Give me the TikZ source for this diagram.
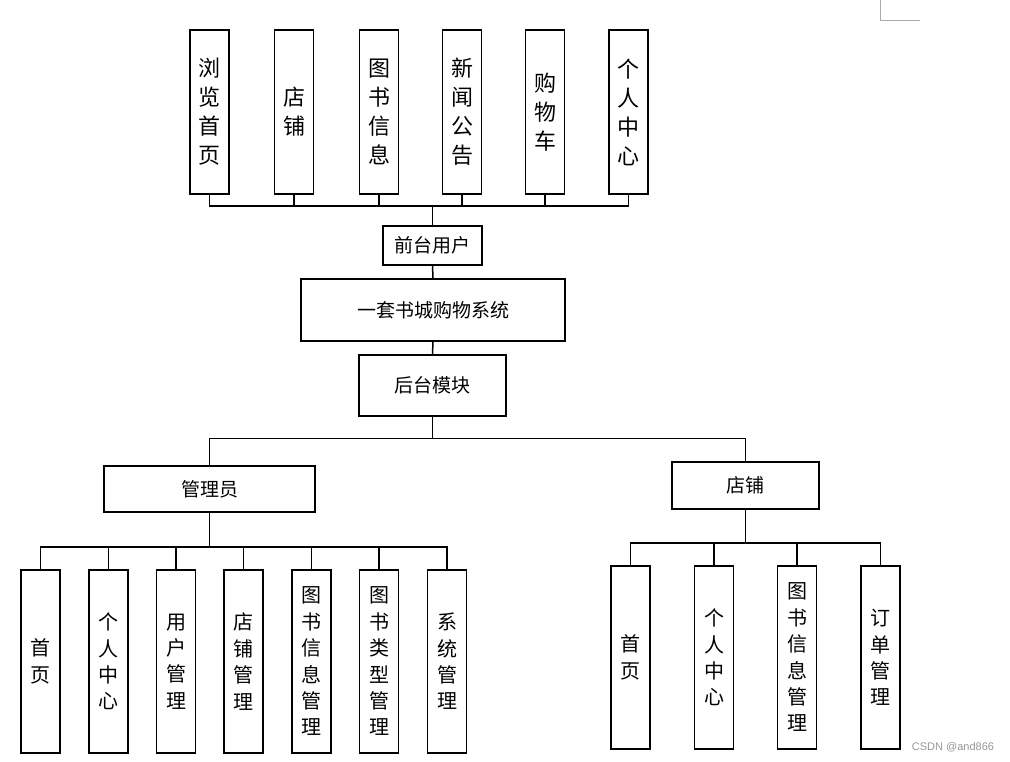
\documentclass[tikz,border=0pt]{standalone}
\usepackage{fontspec}
\setmainfont{Noto Sans CJK SC}
\newfontfamily\wmfont{Liberation Sans}
\begin{document}
\begin{tikzpicture}[x=1pt,y=-1pt,
  box/.style={draw=black,line width=1.5pt,fill=white,inner sep=0pt,align=center},
  topv/.style={box,minimum width=39pt,minimum height=164pt,font=\fontsize{22}{29}\selectfont},
  lowv/.style={box,minimum width=39pt,minimum height=183pt,font=\fontsize{20}{26.4}\selectfont},
  hbox/.style={box,font=\fontsize{19}{22}\selectfont},
  conn/.style={line width=1.5pt,black}]
\useasboundingbox (0,0) rectangle (1010,762);
% top row
\node[topv] (t1) at (209.5,112) {浏\\览\\首\\页};
\node[topv] (t2) at (294,112) {店\\铺};
\node[topv] (t3) at (379,112) {图\\书\\信\\息};
\node[topv] (t4) at (462,112) {新\\闻\\公\\告};
\node[topv] (t5) at (545,112) {购\\物\\车};
\node[topv] (t6) at (628.5,112) {个\\人\\中\\心};
% middle
\node[hbox,minimum width=99pt,minimum height=39pt] (front) at (432.5,245.5) {前台用户};
\node[hbox,minimum width=264pt,minimum height=62pt] (sys) at (433,310) {一套书城购物系统};
\node[hbox,minimum width=147pt,minimum height=61pt] (back) at (432.5,385.5) {后台模块};
\node[hbox,minimum width=211pt,minimum height=46pt] (admin) at (209.5,489) {管理员};
\node[hbox,minimum width=147pt,minimum height=47pt] (shop) at (745.5,485.5) {店铺};
% admin children
\node[lowv] (a1) at (40.5,661.5) {首\\页};
\node[lowv] (a2) at (108.5,661.5) {个\\人\\中\\心};
\node[lowv] (a3) at (176,661.5) {用\\户\\管\\理};
\node[lowv] (a4) at (243.5,661.5) {店\\铺\\管\\理};
\node[lowv] (a5) at (311.5,661.5) {图\\书\\信\\息\\管\\理};
\node[lowv] (a6) at (379,661.5) {图\\书\\类\\型\\管\\理};
\node[lowv] (a7) at (447,661.5) {系\\统\\管\\理};
% shop children
\node[lowv] (s1) at (630.5,657.5) {首\\页};
\node[lowv] (s2) at (714,657.5) {个\\人\\中\\心};
\node[lowv] (s3) at (797,657.5) {图\\书\\信\\息\\管\\理};
\node[lowv] (s4) at (880.5,657.5) {订\\单\\管\\理};
% top connectors
\coordinate (tb) at (0,206);
\draw[conn] (t1.south) -- (t1.south |- tb) -- (t6.south |- tb) -- (t6.south);
\foreach \n in {t2,t3,t4,t5} \draw[conn] (\n.south) -- (\n.south |- tb);
\draw[conn] (front.north) -- (front.north |- tb);
\draw[conn] (front.south) -- (sys.north);
\draw[conn] (sys.south) -- (back.north);
% back bus
\coordinate (bb) at (0,438.5);
\draw[conn] (back.south) -- (back.south |- bb);
\draw[conn] (admin.north) -- (admin.north |- bb) -- (shop.north |- bb) -- (shop.north);
% admin bus
\coordinate (ab) at (0,547);
\draw[conn] (admin.south) -- (admin.south |- ab);
\draw[conn] (a1.north) -- (a1.north |- ab) -- (a7.north |- ab) -- (a7.north);
\foreach \n in {a2,a3,a4,a5,a6} \draw[conn] (\n.north) -- (\n.north |- ab);
% shop bus
\coordinate (sb) at (0,543);
\draw[conn] (shop.south) -- (shop.south |- sb);
\draw[conn] (s1.north) -- (s1.north |- sb) -- (s4.north |- sb) -- (s4.north);
\foreach \n in {s2,s3} \draw[conn] (\n.north) -- (\n.north |- sb);
% corner mark
\draw[line width=1pt,color={rgb,255:red,170;green,170;blue,170}] (880,0) -- (880,21) -- (920,21);
% watermark
\node[font=\wmfont\fontsize{11}{13}\selectfont,text={rgb,255:red,150;green,150;blue,150},inner sep=0pt] (wm) at (953,747) {CSDN @and866};
\end{tikzpicture}
\end{document}
